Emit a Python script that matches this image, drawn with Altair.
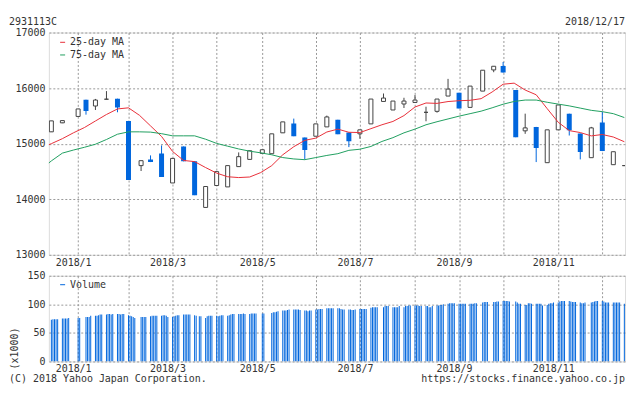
import altair as alt
import pandas as pd
import numpy as np

# ---------------- texts ----------------
CODE = "2931113C"
AS_OF = "2018/12/17"
COPYRIGHT = "(C) 2018 Yahoo Japan Corporation."
SOURCE = "https://stocks.finance.yahoo.co.jp"
VOL_UNIT = "(x1000)"
MA_NAMES = ["25-day MA", "75-day MA"]
VOL_NAME = "Volume"

# ---------------- calendar (Tokyo market) ----------------
START, END = "2017-12-18", "2018-12-17"
HOLIDAYS = ["2018-01-01", "2018-01-02", "2018-01-03", "2018-01-08", "2018-02-12",
            "2018-03-21", "2018-04-30", "2018-05-03", "2018-05-04", "2018-07-16",
            "2018-09-17", "2018-09-24", "2018-10-08", "2018-11-23"]

# ---------------- weekly candles ----------------
OPEN = [15213, 15375, 15490, 15791, 15678, 15800, 15810, 15410, 14605, 14717,
        14825, 14293, 14950, 14682, 13853, 14247, 14222, 14587, 14717, 14825,
        14819, 15195, 15361, 15111, 15134, 15302, 15430, 15200, 15177, 15356,
        15760, 15606, 15714, 15742, 15564, 15582, 15857, 15916, 15653, 15946,
        16327, 16399, 15964, 15231, 15302, 14658, 15249, 15540, 15182, 14748,
        15379, 14622, 14605]
HIGH = [15410, 15420, 15625, 15791, 15805, 15946, 15810, 15410, 14694, 14789,
        14968, 14735, 14950, 14682, 14229, 14497, 14605, 14843, 14873, 14891,
        15177, 15392, 15451, 15111, 15356, 15505, 15430, 15200, 15249, 15803,
        15903, 15767, 15826, 15875, 15665, 15803, 16166, 15916, 16036, 16322,
        16393, 16470, 15964, 15540, 15302, 15249, 15696, 15540, 15182, 15302,
        15576, 14855, 14605]
LOW = [15213, 15370, 15490, 15522, 15606, 15800, 15565, 14347, 14508, 14669,
       14400, 14293, 14682, 14074, 13853, 14247, 14222, 14587, 14717, 14825,
       14819, 15195, 15134, 14712, 15134, 15302, 15170, 14938, 15088, 15356,
       15760, 15606, 15642, 15742, 15403, 15558, 15857, 15635, 15653, 15946,
       16286, 16279, 15116, 15177, 14669, 14658, 15249, 15147, 14717, 14748,
       14866, 14622, 14605]
CLOSE = [15410, 15415, 15625, 15590, 15785, 15800, 15653, 14347, 14694, 14669,
         14400, 14735, 14682, 14074, 14229, 14497, 14605, 14766, 14873, 14891,
         15177, 15392, 15134, 14884, 15356, 15481, 15170, 15045, 15249, 15803,
         15821, 15767, 15767, 15785, 15564, 15803, 15982, 15635, 16036, 16322,
         16393, 16279, 15116, 15284, 14920, 15249, 15696, 15242, 14848, 15284,
         14866, 14855, 14605]

# ---------------- moving averages (Dec 15 2017, then each Monday) ----------------
MA_START = "2017-12-15"
MA25 = [14965, 15000, 15090, 15195, 15290, 15408, 15525, 15625, 15645, 15510,
        15320, 15130, 14860, 14698, 14677, 14570, 14470, 14405, 14390, 14400,
        14480, 14605, 14800, 14945, 15060, 15100, 15210, 15262, 15205, 15200,
        15270, 15340, 15400, 15505, 15660, 15732, 15725, 15758, 15773, 15780,
        15810, 15930, 16070, 16089, 15965, 15880, 15630, 15385, 15235, 15200,
        15140, 15165, 15120, 15035]
MA75 = [14620, 14690, 14830, 14885, 14935, 14990, 15075, 15170, 15213, 15213,
        15208, 15180, 15141, 15141, 15141, 15080, 15005, 14955, 14905, 14865,
        14835, 14800, 14750, 14725, 14712, 14750, 14788, 14820, 14880, 14900,
        14950, 15040, 15108, 15195, 15262, 15340, 15395, 15445, 15495, 15540,
        15585, 15645, 15710, 15760, 15785, 15785, 15745, 15712, 15680, 15640,
        15600, 15576, 15540, 15470]

# ---------------- daily volume (x1000), one list per week ----------------
VOLUME_WEEKS = [
    [73, 74, 74, 74, 74], [75, 75, 75, 75, 76], [76, 76], [78, 78, 78, 80],
    [80, 80, 81, 82, 82], [82, 83, 83, 82, 83], [83, 83, 82, 83, 83],
    [81, 80, 79, 78, 76], [78, 78, 78, 78], [79, 80, 80, 80, 80],
    [80, 81, 81, 80, 78], [78, 79, 80, 81, 81], [82, 82, 82, 82, 82],
    [81, 80, 79, 79], [76, 79, 80, 80, 80], [80, 79, 80, 81, 81],
    [80, 81, 82, 83, 83], [83, 83, 83, 84, 83], [83, 84, 84, 84, 84], [84, 84],
    [85, 86, 86, 87, 88], [89, 89, 89, 90, 91], [91, 91, 91, 91, 90],
    [89, 89, 88, 89, 89], [91, 91, 92, 92, 92], [93, 93, 93, 93, 93],
    [93, 93, 92, 91, 91], [91, 91, 90, 90, 91], [92, 92, 92, 92, 92],
    [94, 95, 95, 95, 95], [95, 97, 97, 97], [95, 95, 95, 95, 97],
    [95, 97, 97, 98, 98], [98, 98, 98, 97, 97], [97, 97, 95, 95, 97],
    [98, 98, 99, 99, 100], [101, 102, 102, 102, 102], [101, 101, 101, 101, 101],
    [101, 101, 101, 102, 102], [103, 104, 104, 104], [104, 104, 105, 105],
    [106, 106, 106, 106, 105], [105, 103, 101, 101], [99, 99, 102, 102, 101],
    [101, 101, 101, 101, 98], [99, 101, 102, 102, 103], [103, 105, 106, 106, 106],
    [106, 105, 104, 104, 104], [103, 102, 102, 103], [103, 104, 105, 106, 106],
    [106, 105, 103, 103, 103], [103, 103, 103, 103, 103], [101]]

# ---------------- axes ticks ----------------
MONTH_TICKS = ["2018-01-04", "2018-02-05", "2018-03-05", "2018-04-02", "2018-05-01",
               "2018-06-04", "2018-07-02", "2018-08-06", "2018-09-03", "2018-10-01",
               "2018-11-05", "2018-12-03"]
MONTH_LABELS = ["2018/1", "", "2018/3", "", "2018/5", "", "2018/7", "", "2018/9", "",
                "2018/11", ""]
PRICE_TICKS = [13000, 14000, 15000, 16000, 17000]
VOL_TICKS = [0, 50, 100, 150]

# ---------------- styles ----------------
FONT = "DejaVu Sans Mono"
BLUE = "#0066DD"
GRAY = "#444444"
MA_COLORS = ["#E8303A", "#21A060"]
TXT = "#333333"
W, H1, H2 = 578, 223, 86
LEFT = -40

# ---------------- build tables ----------------
days = pd.bdate_range(START, END)
days = days[~days.isin(pd.to_datetime(HOLIDAYS))]
week_id = days.to_period("W-SUN")
weeks = sorted(set(week_id))
vol_rows = []
first_days = []
for wi, wk in enumerate(weeks):
    wd = days[week_id == wk]
    assert len(wd) == len(VOLUME_WEEKS[wi]), (wk, len(wd))
    first_days.append(wd[0].strftime("%Y-%m-%d"))
    for d, v in zip(wd, VOLUME_WEEKS[wi]):
        vol_rows.append({"date": d.strftime("%Y-%m-%d"), "volume": v, "s": VOL_NAME})
vol_df = pd.DataFrame(vol_rows)

cdf = pd.DataFrame({"date": first_days, "open": OPEN, "high": HIGH, "low": LOW, "close": CLOSE})
cdf["dir"] = np.where(cdf.close > cdf.open, "up", np.where(cdf.close < cdf.open, "down", "flat"))

mondays = [MA_START] + [d.strftime("%Y-%m-%d") for d in pd.date_range(START, periods=len(MA25) - 1, freq="7D")]
ma_df = pd.concat([
    pd.DataFrame({"date": mondays, "value": MA25, "series": MA_NAMES[0]}),
    pd.DataFrame({"date": mondays, "value": MA75, "series": MA_NAMES[1]}),
])


def dt(s):
    y, m, d = (int(p) for p in s.split("-"))
    return alt.DateTime(year=y, month=m, date=d, utc=True)


XSCALE = alt.Scale(type="utc", nice=False, padding=0,
                   domain=[alt.DateTime(year=2017, month=12, date=16, hours=10, utc=True),
                           alt.DateTime(year=2018, month=12, date=17, hours=10, utc=True)])
label_expr = "[" + ",".join("'%s'" % l for l in MONTH_LABELS) + "][utcmonth(datum.value)]"


def xaxis(pad):
    return alt.Axis(values=[dt(s) for s in MONTH_TICKS], labelExpr=label_expr, title=None,
                    grid=True, ticks=False, tickSize=0, domain=False, labelOffset=-5,
                    labelPadding=pad, labelOverlap=False, labelFlush=False,
                    labelFont=FONT, labelFontSize=10, labelColor=TXT,
                    gridColor="#999999", gridDash=[2, 2])


def X(pad=3):
    return alt.X("date:T", scale=XSCALE, axis=xaxis(pad))


PSCALE = alt.Scale(domain=[13000, 17000], nice=False, zero=False, padding=0)


def yaxis(vals):
    return alt.Axis(values=vals, format="d", title=None, grid=True, ticks=False, tickSize=0,
                    domain=False, labelPadding=4, labelFont=FONT, labelFontSize=10,
                    labelColor=TXT, gridColor="#999999", gridDash=[2, 2])


PY = alt.Y("low:Q", scale=PSCALE, axis=yaxis(PRICE_TICKS))

one = pd.DataFrame({"k": [0]})


def text_layer(txt, x, y, align="left", angle=0):
    return alt.Chart(one).mark_text(text=txt, font=FONT, fontSize=10, color=TXT, align=align,
                                    baseline="middle", angle=angle).encode(
        x=alt.value(x), y=alt.value(y))


wick = alt.Chart(cdf).mark_rule(strokeWidth=1, clip=True).encode(
    x=X(), y=PY, y2="high:Q",
    color=alt.condition("datum.dir == 'down'", alt.value(BLUE), alt.value(GRAY)))
body_dn = alt.Chart(cdf).transform_filter("datum.dir == 'down'").mark_bar(
    size=5, color=BLUE, clip=True).encode(
    x=X(), y=alt.Y("open:Q", scale=PSCALE, axis=yaxis(PRICE_TICKS)), y2="close:Q")
body_up = alt.Chart(cdf).transform_filter("datum.dir != 'down'").mark_bar(
    size=4, fill="white", stroke=GRAY, strokeWidth=1, clip=True).encode(
    x=X(), y=alt.Y("open:Q", scale=PSCALE, axis=yaxis(PRICE_TICKS)), y2="close:Q")
ma = alt.Chart(ma_df).mark_line(strokeWidth=1, clip=True).encode(
    x=X(), y=alt.Y("value:Q", scale=PSCALE, axis=yaxis(PRICE_TICKS)),
    color=alt.Color("series:N", scale=alt.Scale(domain=MA_NAMES, range=MA_COLORS), legend=None),
    detail="series:N")

legend_layers = []
for i, (nm, col) in enumerate(zip(MA_NAMES, MA_COLORS)):
    yy = 9.8 + 12.7 * i
    legend_layers.append(alt.Chart(one).mark_rule(color=col, strokeWidth=1).encode(
        x=alt.value(11.3), x2=alt.value(16.3), y=alt.value(yy)))
    legend_layers.append(text_layer(nm, 21.3, yy))

price = alt.layer(
    wick, body_up, body_dn, ma, *legend_layers,
    text_layer(CODE, LEFT, -10.5),
    text_layer(AS_OF, W, -10.5, align="right"),
).properties(width=W, height=H1)

vol_bars = alt.Chart(vol_df).mark_bar(size=1, color=BLUE, clip=True).encode(
    x=X(2),
    y=alt.Y("volume:Q", scale=alt.Scale(domain=[0, 150], nice=False, padding=0),
            axis=yaxis(VOL_TICKS)))
volume = alt.layer(
    vol_bars,
    alt.Chart(one).mark_rule(color=BLUE, strokeWidth=1).encode(
        x=alt.value(11.3), x2=alt.value(16.3), y=alt.value(9)),
    text_layer(VOL_NAME, 21.3, 9),
    text_layer(VOL_UNIT, LEFT + 6, H2 + 8, angle=270),
    text_layer(COPYRIGHT, LEFT, H2 + 17.5),
    text_layer(SOURCE, W, H2 + 17.5, align="right"),
).properties(width=W, height=H2)

chart = alt.vconcat(price, volume, spacing=21, bounds="flush").resolve_scale(
    x="independent", y="independent", color="independent").properties(
    padding={"left": 0, "top": 8, "right": 0, "bottom": 0}
).configure_view(stroke="#777777", strokeWidth=1).configure(background="white")

chart.save("out.html", embed_options={"renderer": "svg", "actions": False})
